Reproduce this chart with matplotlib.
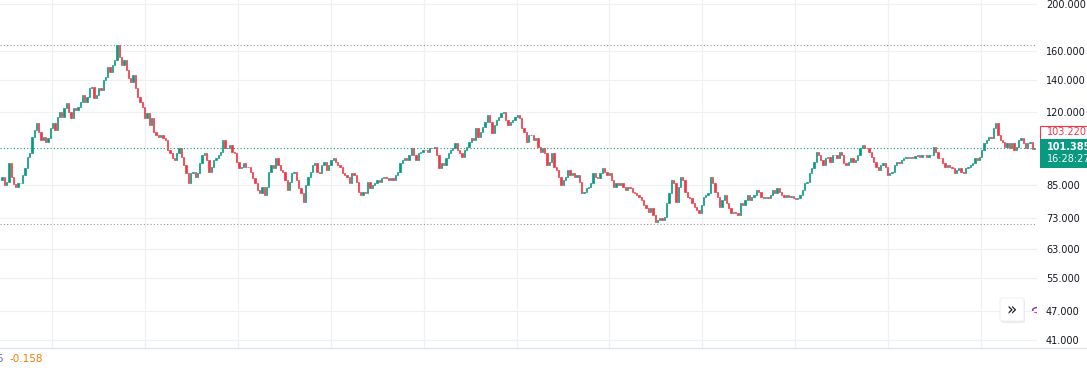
import numpy as np
import matplotlib

matplotlib.use("Agg")
import matplotlib.pyplot as plt
from matplotlib.lines import Line2D
from matplotlib.patches import Rectangle, FancyBboxPatch, Circle
from matplotlib.ticker import NullLocator


# closing prices left to right
close = [
    # run-up to the top
    88.4, 85.1, 86.3, 94.4, 88.4, 85.5, 84.3, 85.9, 85.9, 89.3,
    92.2, 97.1, 99.0, 106.8, 110.4, 114.1, 109.3, 105.3, 106.8, 104.3,
    106.3, 111.4, 114.1, 110.4, 117.4, 120.2, 117.4, 122.5, 125.4, 120.2,
    116.8, 122.5, 121.3, 123.0, 126.0, 130.2, 126.0, 129.0, 134.6, 135.2,
    128.4, 130.2, 134.6, 133.3, 139.8, 141.8, 148.6, 145.1, 150.0, 153.6,
    164.6, 155.8, 150.0, 153.6, 146.5, 141.1, 138.5, 143.1, 134.6, 129.0,
    126.0, 123.0, 116.8, 119.6, 113.0, 116.8, 109.3, 107.8, 106.8, 107.8,
    106.3, 105.3, 100.4, 99.0, 96.7,
    # chop after the top
    95.8, 99.0, 101.4, 97.1, 93.6, 90.1, 85.9, 90.1, 90.5, 88.4,
    90.1, 94.4, 98.1, 99.0, 95.8, 90.5, 92.7, 95.8, 96.7, 98.1,
    99.5, 105.3, 101.4, 101.4, 102.8, 99.5, 99.0, 94.9, 92.2, 92.7,
    94.4, 92.7, 92.7, 90.5, 88.0, 85.9, 83.2, 82.0, 84.3, 81.2,
    84.3, 90.5, 93.6, 92.2, 96.7, 93.6, 91.4, 90.5, 87.2, 83.2,
    86.3, 90.1, 90.5, 87.2, 83.9, 82.0, 78.6, 85.1, 88.4, 90.5,
    93.6, 94.4, 90.5, 90.1, 93.6, 94.9, 91.4, 93.6, 95.8, 96.7,
    94.9, 93.6, 92.7, 90.1, 89.3,
    # second rally
    88.4, 85.9, 90.1, 89.3, 86.3, 82.4, 81.2, 82.4, 82.0, 86.3,
    83.9, 85.1, 85.9, 87.2, 86.3, 88.0, 88.4, 88.0, 87.2, 88.0,
    87.2, 89.3, 90.5, 94.4, 95.8, 96.7, 95.8, 98.1, 101.4, 98.1,
    95.8, 99.0, 99.5, 100.4, 100.4, 99.5, 101.4, 101.4, 101.8, 98.1,
    92.2, 94.4, 93.6, 96.7, 99.0, 100.4, 101.4, 103.8, 100.4, 99.0,
    97.1, 100.4, 101.8, 104.3, 106.3, 105.3, 111.4, 106.8, 109.3, 111.9,
    114.6, 118.5, 114.6, 108.8, 113.0, 115.7, 117.4, 119.6, 120.2, 115.7,
    113.0, 114.6, 115.7, 117.4,
    # slide to the low
    118.5, 116.8, 111.4, 109.3, 104.3, 107.8, 107.8, 105.3, 106.3, 101.8,
    99.5, 101.4, 99.0, 93.6, 94.9, 99.0, 92.7, 91.4, 88.4, 85.1,
    87.2, 88.4, 91.4, 89.3, 90.1, 88.4, 89.3, 86.3, 82.0, 82.4,
    83.9, 84.3, 85.9, 90.1, 88.4, 88.0, 90.1, 92.2, 90.5, 89.3,
    90.1, 87.2, 84.3, 85.9, 85.1, 85.9, 84.3, 83.2, 84.3, 83.9,
    82.4, 82.0, 81.2, 80.4, 79.3, 77.5, 76.4, 74.9, 76.4, 73.9,
    71.5, 72.2, 72.8, 72.2, 73.2, 78.2, 82.0, 87.2, 85.9, 78.6,
    84.3, 88.4, 87.2, 82.4, 80.4,
    # base and breakout
    80.1, 78.2, 76.7, 75.7, 74.6, 77.5, 80.4, 81.2, 82.0, 88.4,
    85.9, 82.4, 80.4, 76.7, 79.3, 81.2, 78.2, 76.4, 74.6, 74.9,
    74.6, 73.9, 78.2, 77.5, 79.3, 81.2, 79.3, 80.4, 81.2, 83.2,
    82.4, 80.4, 80.1, 80.4, 80.1, 81.2, 83.2, 82.0, 83.9, 82.4,
    81.2, 80.4, 81.2, 80.4, 80.8, 80.1, 79.7, 80.1, 81.2, 83.2,
    85.9, 86.3, 90.1, 92.2, 94.9, 99.5, 98.1, 95.8, 93.6, 96.7,
    97.1, 94.9, 98.1, 98.1, 96.7, 99.5, 98.1, 94.4, 93.6, 94.9,
    96.7, 94.9, 95.8, 98.1,
    # latest stretch
    101.4, 102.8, 101.4, 101.4, 99.5, 97.1, 94.9, 92.7, 91.4, 93.6,
    94.4, 92.7, 89.3, 90.1, 90.5, 93.6, 94.9, 94.4, 95.8, 96.7,
    97.1, 96.7, 97.1, 96.7, 97.6, 98.1, 97.1, 98.1, 98.1, 97.1,
    98.1, 98.1, 101.8, 99.5, 96.7, 96.7, 94.4, 92.7, 93.6, 92.7,
    92.2, 90.1, 91.4, 92.2, 90.5, 90.1, 92.2, 92.7, 93.6, 94.4,
    96.7, 95.8, 97.1, 100.4, 103.8, 105.3, 106.8, 106.3, 111.4, 114.1,
    107.8, 105.3, 104.3, 101.8, 103.8, 101.4, 103.8, 100.4, 101.8, 105.3,
    106.3, 103.8, 101.4, 103.8, 104.3, 100.9, 101.385,
]
first_open = 87.0

price_ticks = [200, 160, 140, 120, 85, 73, 63, 55, 47, 41]
high_level = 164.8
low_level = 70.8
last_price = 101.385
ref_price = 103.22
last_time = "16:28:27"
indicator_value = "-0.158"

UP = "#089981"
DOWN = "#F23645"
GRID = "#eef0f4"
TEXT = "#131722"

W, H = 1087, 371


def fx(px):
    return px / W


def fy(py):
    return (H - py) / H


def main() -> None:
    c = np.array(close)
    o = np.r_[first_open, c[:-1]]
    idx = np.arange(len(c))
    colors = np.where(c >= o, UP, DOWN)

    fig = plt.figure(figsize=(W / 100, H / 100), dpi=100)
    ax = fig.add_axes([0, fy(348), fx(1037), 348 / H])
    ax.set_yscale("log")
    ax.set_ylim(39.48, 203.8)
    ax.set_xlim(-0.87, 450.0)

    # candle bodies
    ax.bar(idx, np.abs(c - o), bottom=np.minimum(o, c), width=0.6,
           color=colors, edgecolor=colors, linewidth=0.5, zorder=3)

    ax.axhline(high_level, color="#9598a1", lw=0.8, ls=(0, (1, 2)), zorder=2)
    ax.axhline(low_level, color="#9598a1", lw=0.8, ls=(0, (1, 2)), zorder=2)
    ax.axhline(last_price, color=UP, lw=0.8, ls=(0, (1, 2)), zorder=2)

    ax.yaxis.tick_right()
    ax.yaxis.set_minor_locator(NullLocator())
    ax.set_yticks(price_ticks)
    ax.set_yticklabels([f"{v:.3f}" for v in price_ticks])
    ax.set_xticks(np.arange(21.7, 450, 40.4))
    ax.set_xticklabels([])
    ax.tick_params(axis="y", length=0, pad=6.5, labelsize=7, labelcolor=TEXT)
    ax.tick_params(axis="x", length=0)
    ax.grid(True, color=GRID, lw=0.9, zorder=0)
    for s in ax.spines.values():
        s.set_visible(False)

    fig.add_artist(Line2D([0, 1], [fy(348), fy(348)], color="#e0e3eb", lw=1))

    # price labels on the scale
    fig.add_artist(Rectangle((fx(1040), fy(139)), fx(50), 13 / H,
                             facecolor="white", edgecolor=DOWN, lw=0.8))
    fig.text(fx(1047), fy(132.5), f"{ref_price:.3f}", color=DOWN,
             fontsize=7, va="center", ha="left")
    fig.add_artist(Rectangle((fx(1040), fy(168)), fx(50), 29 / H,
                             facecolor=UP, edgecolor=UP, lw=0))
    fig.text(fx(1047), fy(146.5), f"{last_price:.3f}", color="white",
             fontsize=7, fontweight="bold", va="center", ha="left")
    fig.text(fx(1047), fy(159.5), last_time, color="white",
             fontsize=7, va="center", ha="left")

    # scroll button
    fig.add_artist(FancyBboxPatch((fx(1001), fy(323)), fx(24), 24 / H,
                                  boxstyle="round,pad=0,rounding_size=0.004",
                                  facecolor="#d8dae0", edgecolor="none", alpha=0.5))
    fig.add_artist(FancyBboxPatch((fx(1000), fy(321)), fx(24), 23 / H,
                                  boxstyle="round,pad=0,rounding_size=0.004",
                                  facecolor="white", edgecolor="#eceef2", lw=0.6))
    fig.text(fx(1012), fy(310), "»", fontsize=12, ha="center", va="center",
             color=TEXT)
    arc = Circle((fx(1041), fy(310)), fx(8.5), transform=fig.transFigure,
                 facecolor="none", edgecolor="#9c27b0", lw=1.0)
    ax.add_patch(arc)

    # indicator value under the chart
    fig.text(fx(-4), fy(359), "5", color="#5b6bd1", fontsize=7.5, va="center")
    fig.text(fx(10), fy(359), indicator_value, color="#f57c00", fontsize=7.5,
             va="center")

    fig.savefig("out.png", dpi=100)


if __name__ == "__main__":
    main()
